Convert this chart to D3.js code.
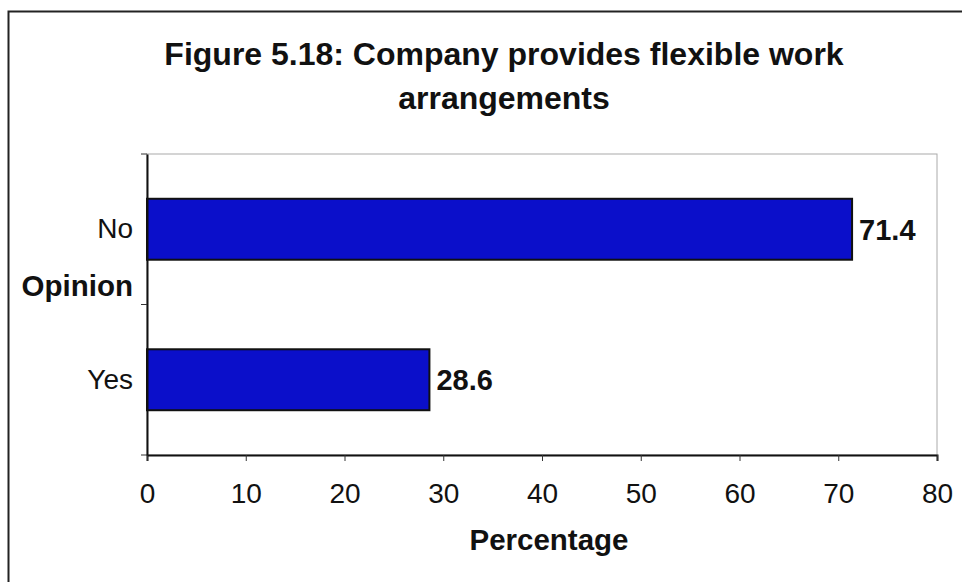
<!DOCTYPE html>
<html><head><meta charset="utf-8">
<script src="https://cdn.jsdelivr.net/npm/d3@7/dist/d3.min.js"></script>
<style>body{margin:0;background:#fff}svg{display:block}text{font-family:"Liberation Sans",Arial,sans-serif;fill:#111}</style>
</head><body>
<svg id="c" width="962" height="582"></svg>
<script>
const categories = ["No", "Yes"];
const values = [71.4, 28.6];
const xTicks = [0, 10, 20, 30, 40, 50, 60, 70, 80];
const titleLines = ["Figure 5.18: Company provides flexible work", "arrangements"];
const xTitle = "Percentage";
const yTitle = "Opinion";

const svg = d3.select("#c");
const m = {l:147, r:937, t:154, b:455};

// outer frame (only left/top visible)
svg.append("rect").attr("x",8.5).attr("y",11.5).attr("width",1000).attr("height",1000)
  .attr("fill","none").attr("stroke","#222").attr("stroke-width",2);

const x = d3.scaleLinear().domain([0,80]).range([m.l, m.r]);
const y = d3.scaleBand().domain(categories).range([m.t, m.b]).paddingInner(0.595).paddingOuter(0.2975);

// plot area border (faint top/right)
svg.append("rect").attr("x",m.l).attr("y",m.t).attr("width",m.r-m.l).attr("height",m.b-m.t)
  .attr("fill","#fff").attr("stroke","#aaa").attr("stroke-width",1);

svg.selectAll("rect.bar").data(values).join("rect").attr("class","bar")
  .attr("x", x(0)).attr("y",(d,i)=>y(categories[i]))
  .attr("width", d=>x(d)-x(0)).attr("height", y.bandwidth())
  .attr("fill","#0b0fca").attr("stroke","#111").attr("stroke-width",2);

// x axis
const xa = svg.append("g").attr("transform",`translate(0,${m.b})`)
  .call(d3.axisBottom(x).tickValues(xTicks).tickSize(6).tickPadding(22).tickFormat(d3.format("d")));
xa.select(".domain").attr("stroke","#111").attr("stroke-width",2);
xa.selectAll(".tick line").attr("stroke","#333");
xa.selectAll("text").style("font-size","28px").attr("fill","#111");

// y axis
const ya = svg.append("g").attr("transform",`translate(${m.l},0)`)
  .call(d3.axisLeft(y).tickSize(0).tickPadding(14));
ya.select(".domain").attr("stroke","#111").attr("stroke-width",2);
ya.selectAll("text").style("font-size","28px").attr("fill","#111");
// small boundary ticks between bands
const bounds = [m.t, (m.t+m.b)/2, m.b];
svg.selectAll("line.yt").data(bounds).join("line").attr("class","yt")
  .attr("x1",m.l-6).attr("x2",m.l).attr("y1",d=>d).attr("y2",d=>d).attr("stroke","#333");

// data labels
svg.selectAll("text.val").data(values).join("text").attr("class","val")
  .attr("x", d=>x(d)+7).attr("y",(d,i)=>y(categories[i])+y.bandwidth()/2)
  .attr("dy","0.36em").style("font-size","29px").style("font-weight","bold").text(d=>d.toFixed(1));

// titles
svg.selectAll("text.title").data(titleLines).join("text").attr("class","title")
  .attr("x",504).attr("y",(d,i)=>65+i*44).attr("text-anchor","middle")
  .style("font-size","32px").style("font-weight","bold").text(d=>d);

svg.append("text").attr("x",549).attr("y",550).attr("text-anchor","middle")
  .style("font-size","29.5px").style("font-weight","bold").text(xTitle);
svg.append("text").attr("x",133).attr("y",296).attr("text-anchor","end")
  .style("font-size","29.5px").style("font-weight","bold").text(yTitle);
</script>
</body></html>
